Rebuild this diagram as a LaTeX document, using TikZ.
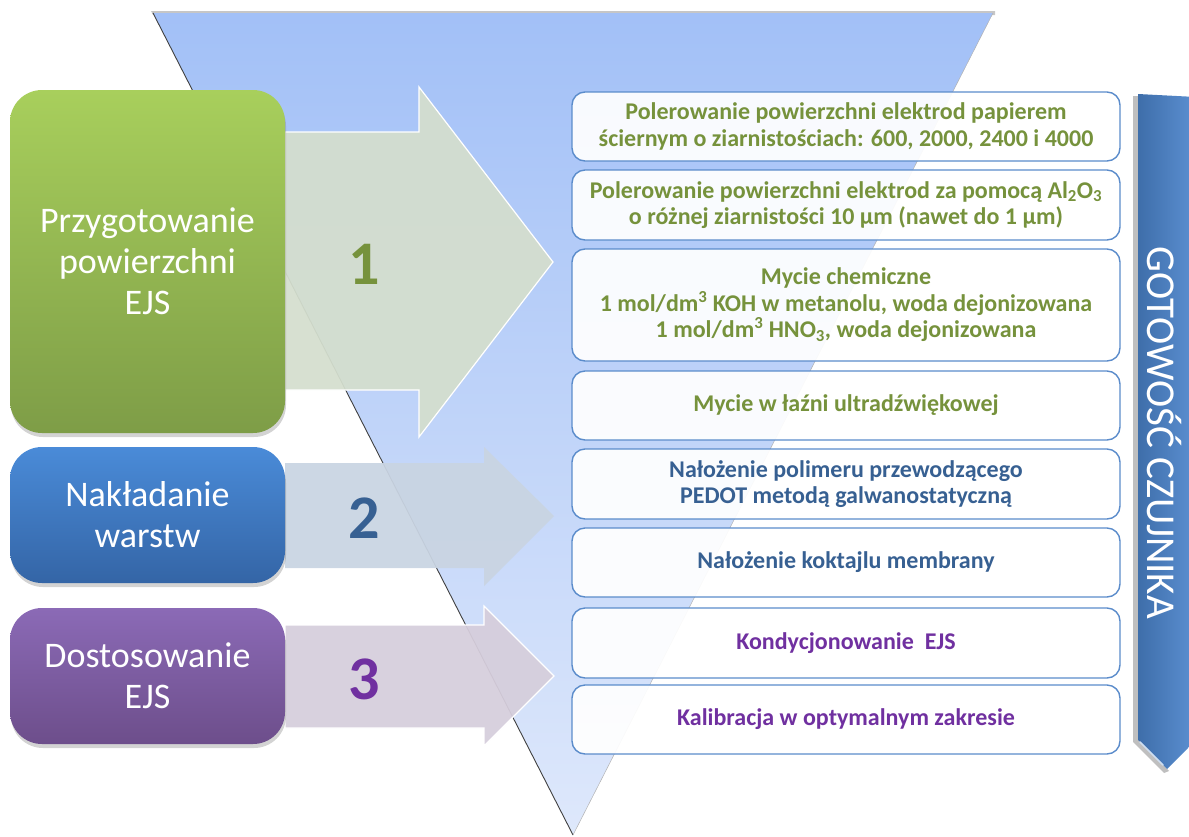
\documentclass[tikz,border=0pt]{standalone}
\usepackage{fontspec}
\setmainfont{Carlito}
\usetikzlibrary{shadows,calc}
\definecolor{triTop}{HTML}{A2C0F7}
\definecolor{triBot}{HTML}{DEE8FB}
\definecolor{gTop}{HTML}{A8CF5C}
\definecolor{gBot}{HTML}{7E9D47}
\definecolor{bTop}{HTML}{4A8BD8}
\definecolor{bBot}{HTML}{3465A6}
\definecolor{pTop}{HTML}{8B6AB6}
\definecolor{pBot}{HTML}{6D4E8B}
\definecolor{arG}{HTML}{D4DECE}
\definecolor{arB}{HTML}{C9D4E2}
\definecolor{arP}{HTML}{D6CEDC}
\definecolor{txG}{HTML}{76923C}
\definecolor{txB}{HTML}{376092}
\definecolor{txP}{HTML}{7030A0}
\definecolor{boxLine}{HTML}{5B8CCB}
\definecolor{chevL}{HTML}{3E6EAA}
\definecolor{chevR}{HTML}{5C90D2}
\tikzset{
  leftbox/.style={rounded corners=32pt, minimum width=275pt, align=center, text=white,
    font=\fontsize{36}{41}\selectfont, inner sep=0pt,
    drop shadow={opacity=0.35, shadow xshift=1pt, shadow yshift=-4pt}},
  stepbox/.style={draw=boxLine, line width=1.4pt, fill=white, fill opacity=0.93, text opacity=1,
    rounded corners=13pt, minimum width=548pt, align=center, inner sep=0pt,
    font=\bfseries\fontsize{24}{26.5}\selectfont},
  bigarrow/.style={draw=white, line width=1.2pt, fill opacity=0.94},
  numlabel/.style={font=\bfseries\fontsize{62}{64}\selectfont}
}
\begin{document}
\begin{tikzpicture}[x=1pt,y=-1pt]
\useasboundingbox (0,0) rectangle (1189,836);
% funnel triangle
\fill[gray!45] (151,11) -- (995,11) -- (995,15) -- (153,15) -- cycle;
\shade[top color=triTop, bottom color=triBot] (153,13) -- (993,13) -- (573,835) -- cycle;
\draw[gray!50!black, line width=0.9pt] (153,13) -- (573,835);
\draw[gray!60, line width=0.5pt] (993,13) -- (573,835);
% block arrows
\fill[arG, bigarrow] (285,132) -- (419,132) -- (419,87) -- (553,262) -- (419,437) -- (419,390) -- (285,390) -- cycle;
\fill[arB, bigarrow, draw=none] (285,463) -- (484,463) -- (484,447) -- (554,516) -- (484,586) -- (484,568) -- (285,568) -- cycle;
\fill[arP, bigarrow] (285,625) -- (484,625) -- (484,606) -- (554,676) -- (484,746) -- (484,728) -- (285,728) -- cycle;
% left boxes
\node[leftbox, top color=gTop, bottom color=gBot, minimum height=343pt] (prep) at (147.5,261.5) {Przygotowanie\\powierzchni\\EJS};
\node[leftbox, top color=bTop, bottom color=bBot, minimum height=136pt] (layer) at (147.5,515) {Nakładanie\\warstw};
\node[leftbox, top color=pTop, bottom color=pBot, minimum height=136pt] (adapt) at (147.5,676) {Dostosowanie\\EJS};
% numbers
\node[numlabel, text=txG] (n1) at (364,264) {1};
\node[numlabel, text=txB] (n2) at (364,518) {2};
\node[numlabel, text=txP] (n3) at (364,679) {3};
% step boxes
\node[stepbox, text=txG, minimum height=69pt] (s1) at (846,126.5) {Polerowanie powierzchni elektrod papierem\\ściernym o ziarnistościach: 600, 2000, 2400 i 4000};
\node[stepbox, text=txG, minimum height=70pt] (s2) at (846,205) {Polerowanie powierzchni elektrod za pomocą Al\textsubscript{2}O\textsubscript{3}\\o różnej ziarnistości 10 µm (nawet do 1 µm)};
\node[stepbox, text=txG, minimum height=112pt] (s3) at (846,305) {Mycie chemiczne\\1 mol/dm\textsuperscript{3} KOH w metanolu, woda dejonizowana\\1 mol/dm\textsuperscript{3} HNO\textsubscript{3}, woda dejonizowana};
\node[stepbox, text=txG, minimum height=69pt] (s4) at (846,405.5) {Mycie w łaźni ultradźwiękowej};
\node[stepbox, text=txB, minimum height=70pt] (s5) at (846,484) {Nałożenie polimeru przewodzącego\\PEDOT metodą galwanostatyczną};
\node[stepbox, text=txB, minimum height=69pt] (s6) at (846,562.5) {Nałożenie koktajlu membrany};
\node[stepbox, text=txP, minimum height=70pt] (s7) at (846,643) {Kondycjonowanie~ EJS};
\node[stepbox, text=txP, minimum height=69pt] (s8) at (846,719.5) {Kalibracja w optymalnym zakresie};
% readiness chevron
\fill[black, opacity=0.25] (1133,96) -- (1140,96) -- (1140,742) -- (1169,771) -- (1164,773) -- (1133,742) -- cycle;
\shade[left color=chevL, right color=chevR] (1138,94) -- (1196,97) -- (1196,740) -- (1167,769) -- (1138,740) -- cycle;
\draw[white!70!chevR, line width=1.6pt, line cap=round] (1140,742) -- (1163,765);
\node[text=white, rotate=-90, font=\fontsize{41}{44}\selectfont] (ready) at (1164,433) {GOTOWOŚĆ CZUJNIKA};
\end{tikzpicture}
\end{document}
